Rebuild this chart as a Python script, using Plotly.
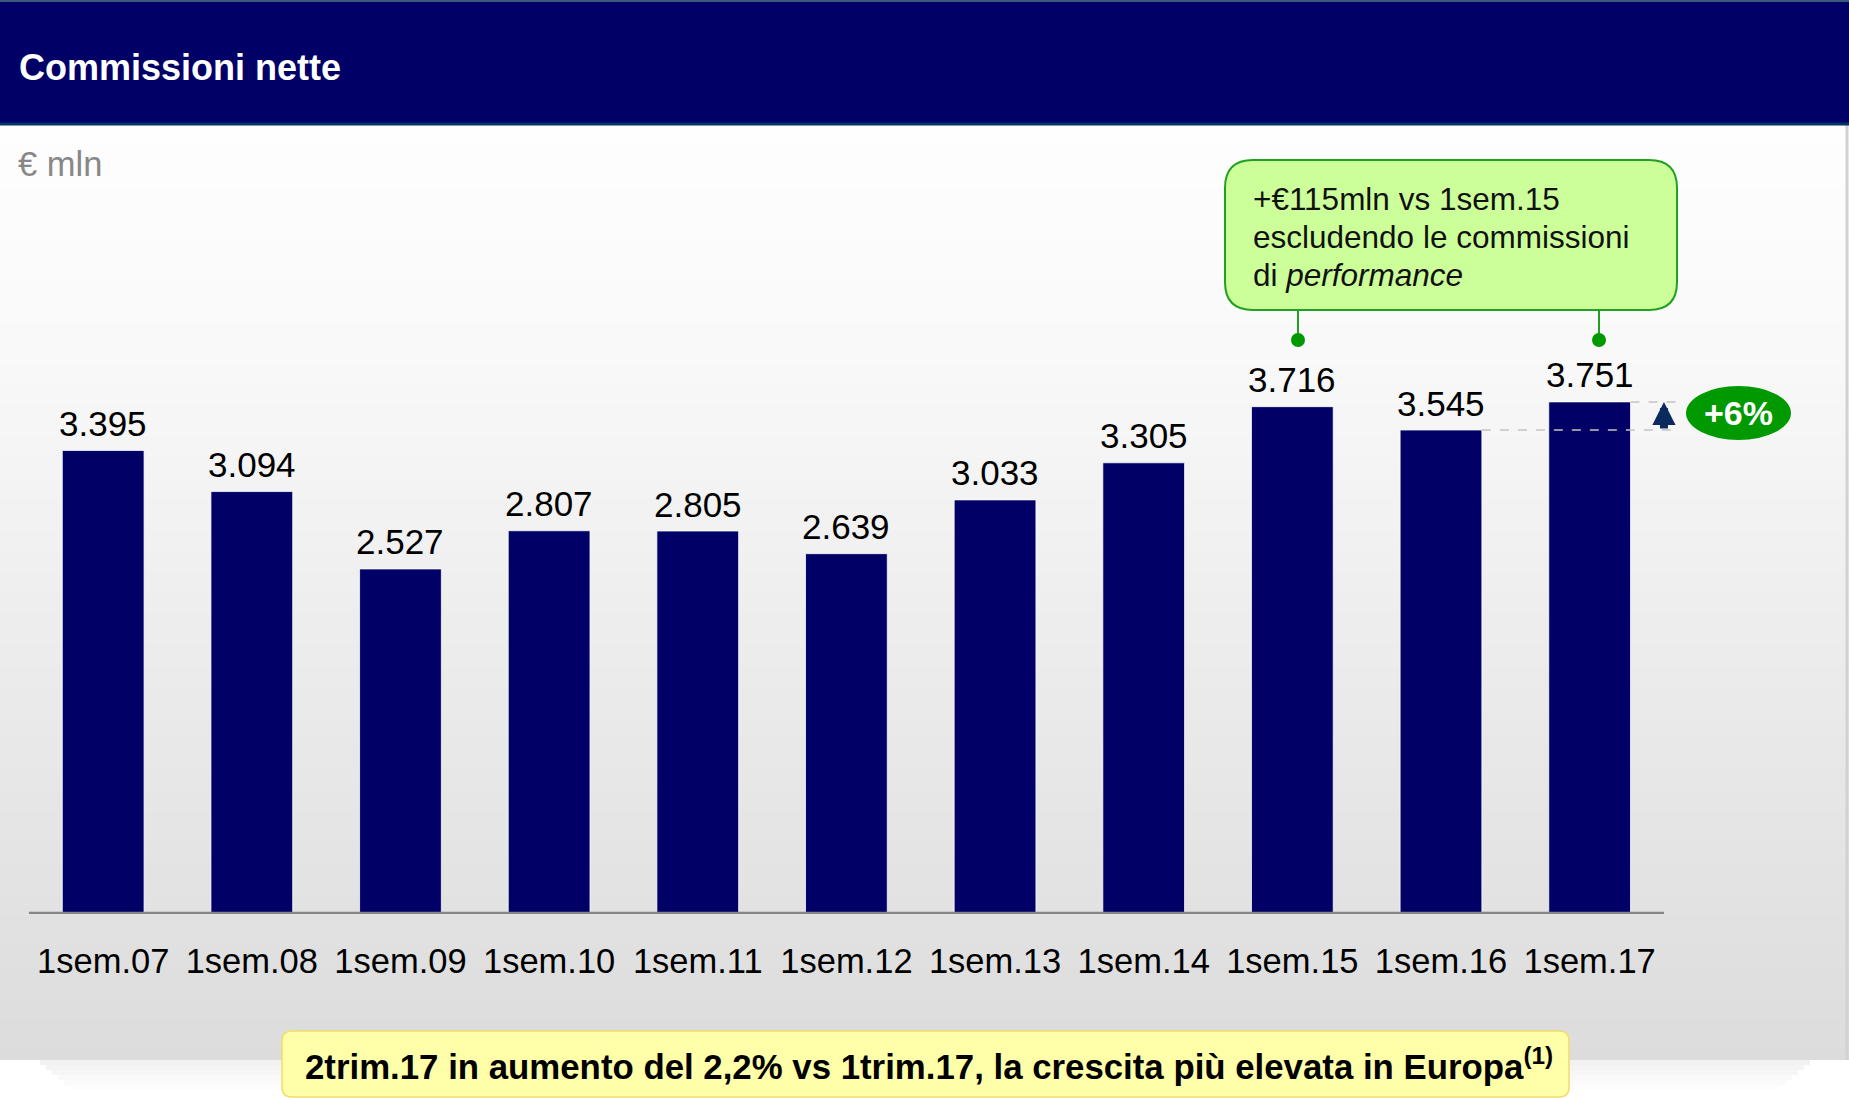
import plotly.graph_objects as go

# ---------------- data ----------------
categories = ["1sem.07", "1sem.08", "1sem.09", "1sem.10", "1sem.11", "1sem.12",
              "1sem.13", "1sem.14", "1sem.15", "1sem.16", "1sem.17"]
values = [3395, 3094, 2527, 2807, 2805, 2639, 3033, 3305, 3716, 3545, 3751]
value_labels = ["3.395", "3.094", "2.527", "2.807", "2.805", "2.639",
                "3.033", "3.305", "3.716", "3.545", "3.751"]
title_text = "Commissioni nette"
unit_text = "€ mln"
growth_label = "+6%"
callout_lines = ["+€115mln vs 1sem.15", "escludendo le commissioni", "di <i>performance</i>"]
footer_text = "2trim.17 in aumento del 2,2% vs 1trim.17, la crescita più elevata in Europa<sup>(1)</sup>"

# ---------------- layout helpers ----------------
W, H = 1849, 1098
FONT = "Liberation Sans, Arial, Helvetica, sans-serif"
NAVY = "#000066"


def px(x):
    return x / W


def py(y):
    return 1 - y / H


def rrect(x0, y0, x1, y1, r):
    return (f"M{px(x0 + r)},{py(y0)} L{px(x1 - r)},{py(y0)} "
            f"Q{px(x1)},{py(y0)} {px(x1)},{py(y0 + r)} "
            f"L{px(x1)},{py(y1 - r)} Q{px(x1)},{py(y1)} {px(x1 - r)},{py(y1)} "
            f"L{px(x0 + r)},{py(y1)} Q{px(x0)},{py(y1)} {px(x0)},{py(y1 - r)} "
            f"L{px(x0)},{py(y0 + r)} Q{px(x0)},{py(y0)} {px(x0 + r)},{py(y0)} Z")


shapes = []

# gradient panel background
g_top, g_bot = 125, 1060
stops = [(125, 254), (350, 249), (700, 234), (1060, 220)]


def grey_at(y):
    for (y0, c0), (y1, c1) in zip(stops[:-1], stops[1:]):
        if y0 <= y <= y1:
            t = (y - y0) / (y1 - y0)
            return int(round(c0 + t * (c1 - c0)))
    return stops[-1][1]


n_bands = 90
band_h = (g_bot - g_top) / n_bands
for i in range(n_bands):
    y0 = g_top + i * band_h
    y1 = y0 + band_h + 0.6
    c = grey_at(y0 + band_h / 2)
    shapes.append(dict(type="rect", xref="paper", yref="paper", layer="below",
                       x0=0, x1=1, y0=py(min(y1, g_bot)), y1=py(y0),
                       fillcolor=f"rgb({c},{c},{c})", line=dict(width=0)))

# soft shadow under panel
for i, a in enumerate([0.055, 0.045, 0.035, 0.025, 0.016, 0.008]):
    shapes.append(dict(type="rect", xref="paper", yref="paper", layer="below",
                       x0=px(40 + i * 6), x1=px(1810 - i * 6),
                       y0=py(g_bot + (i + 1) * 5), y1=py(g_bot + i * 5),
                       fillcolor=f"rgba(0,0,0,{a})", line=dict(width=0)))

# right edge line of panel
shapes.append(dict(type="line", xref="paper", yref="paper", layer="below",
                   x0=px(1847), x1=px(1847), y0=py(g_bot), y1=py(125),
                   line=dict(color="#d2d2d2", width=3)))

# header band
shapes.append(dict(type="rect", xref="paper", yref="paper", layer="below",
                   x0=0, x1=1, y0=py(125), y1=1, fillcolor=NAVY, line=dict(width=0)))
shapes.append(dict(type="line", xref="paper", yref="paper", layer="below",
                   x0=0, x1=1, y0=py(124), y1=py(124), line=dict(color="#003366", width=3)))
shapes.append(dict(type="line", xref="paper", yref="paper", layer="below",
                   x0=0, x1=1, y0=py(1), y1=py(1), line=dict(color="#3a5a7a", width=2)))

# baseline of bars (category axis)
shapes.append(dict(type="line", xref="x", yref="y", layer="above",
                   x0=-0.5, x1=len(categories) - 0.5, y0=0, y1=0,
                   line=dict(color="#858585", width=4.5)))

# dashed reference lines for growth
half_bar = 0.55 / 2
shapes.append(dict(type="line", xref="x", yref="y", layer="above",
                   x0=9 + half_bar, x1=10.59, y0=values[9], y1=values[9],
                   line=dict(color="#c4c4c4", width=1.5, dash="dash")))
shapes.append(dict(type="line", xref="x", yref="y", layer="above",
                   x0=10 + half_bar, x1=10.59, y0=values[10], y1=values[10],
                   line=dict(color="#c4c4c4", width=1.5, dash="dash")))

# green growth ellipse
shapes.append(dict(type="circle", xref="paper", yref="paper", layer="above",
                   x0=px(1686), x1=px(1791), y0=py(440), y1=py(386),
                   fillcolor="#009900", line=dict(width=0)))

# callout box and connectors
shapes.append(dict(type="path", xref="paper", yref="paper", layer="above",
                   path=rrect(1225, 160, 1677, 310, 28),
                   fillcolor="#ccff99", line=dict(color="#22a022", width=2)))
for cx in (1298, 1599):
    shapes.append(dict(type="line", xref="paper", yref="paper", layer="above",
                       x0=px(cx), x1=px(cx), y0=py(338), y1=py(310),
                       line=dict(color="#22a022", width=2)))
    shapes.append(dict(type="circle", xref="paper", yref="paper", layer="above",
                       x0=px(cx - 7), x1=px(cx + 7), y0=py(347), y1=py(333),
                       fillcolor="#009900", line=dict(width=0)))

# footer yellow box
shapes.append(dict(type="path", xref="paper", yref="paper", layer="above",
                   path=rrect(282, 1031, 1569, 1097, 10),
                   fillcolor="#ffffaa", line=dict(color="#f2dc6c", width=1.5)))

# ---------------- figure ----------------
fig = go.Figure()
fig.add_trace(go.Bar(
    x=categories, y=values,
    marker=dict(color=NAVY, line=dict(color="rgba(255,255,255,0.75)", width=1)),
    width=0.55, hoverinfo="skip", showlegend=False,
))

annotations = []
# value labels above bars
for c, v, lab in zip(categories, values, value_labels):
    annotations.append(dict(x=c, y=v, xref="x", yref="y", text=lab, showarrow=False,
                            yanchor="middle", xanchor="center", yshift=27,
                            font=dict(family=FONT, size=35, color="#000000")))

# growth arrow
annotations.append(dict(x=10.5, y=values[10], ax=10.5, ay=values[9],
                        xref="x", yref="y", axref="x", ayref="y", text="",
                        showarrow=True, arrowhead=2, arrowsize=0.58, arrowwidth=8,
                        arrowcolor="#0b2a5e", standoff=0, startstandoff=0))

# growth label
annotations.append(dict(x=px(1738), y=py(413), xref="paper", yref="paper",
                        text=f"<b>{growth_label}</b>", showarrow=False,
                        xanchor="center", yanchor="middle",
                        font=dict(family=FONT, size=34, color="#ffffff")))

# title & unit
annotations.append(dict(x=px(17), y=py(67), xref="paper", yref="paper",
                        text=f"<b>{title_text}</b>", showarrow=False,
                        xanchor="left", yanchor="middle",
                        font=dict(family=FONT, size=36, color="#ffffff")))
annotations.append(dict(x=px(16), y=py(164), xref="paper", yref="paper",
                        text=unit_text, showarrow=False,
                        xanchor="left", yanchor="middle",
                        font=dict(family=FONT, size=34.5, color="#888888")))

# callout text
for i, line in enumerate(callout_lines):
    annotations.append(dict(x=px(1251), y=py(199 + 38 * i), xref="paper", yref="paper",
                            text=line, showarrow=False, xanchor="left", yanchor="middle",
                            font=dict(family=FONT, size=31.5, color="#111111")))

# footer text
annotations.append(dict(x=px(303), y=py(1064), xref="paper", yref="paper",
                        text=f"<b>{footer_text}</b>", showarrow=False,
                        xanchor="left", yanchor="middle",
                        font=dict(family=FONT, size=34.8, color="#000000")))

fig.update_layout(
    width=W, height=H,
    margin=dict(l=0, r=0, t=0, b=0),
    paper_bgcolor="#ffffff", plot_bgcolor="rgba(0,0,0,0)",
    shapes=shapes, annotations=annotations,
    bargap=0.45,
    xaxis=dict(domain=[28.86 / W, 1812.6 / W], range=[-0.5, 11.5], type="category",
               showgrid=False, zeroline=False, showline=False, ticks="",
               tickfont=dict(family=FONT, size=34.5, color="#000000"),
               ticklabelstandoff=24, fixedrange=True),
    yaxis=dict(domain=[py(913.9), py(94.9)], range=[0, 6000],
               showgrid=False, zeroline=False, showline=False, showticklabels=False,
               ticks="", fixedrange=True),
    font=dict(family=FONT),
)

fig.write_html("out.html", config={"displayModeBar": False},
               post_script="document.body.style.margin='0';document.body.style.overflow='hidden';")
